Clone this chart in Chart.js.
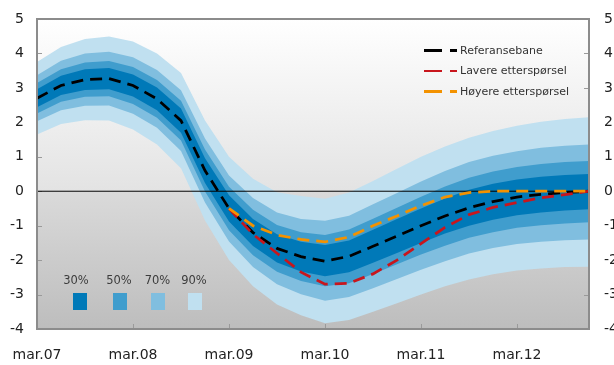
<!DOCTYPE html>
<html>
<head>
<meta charset="utf-8">
<script src="https://cdn.jsdelivr.net/npm/chart.js@4.4.1/dist/chart.umd.min.js"></script>
<style>
html,body{margin:0;padding:0;background:#fff;overflow:hidden;width:614px;height:365px;}
#wrap{position:absolute;left:0;top:0;width:614px;height:365px;overflow:hidden;}
#c{position:absolute;left:0;top:0;}
.lg{position:absolute;font-family:"DejaVu Sans",sans-serif;font-size:11px;color:#333;white-space:nowrap;line-height:13px;}
.seg{position:absolute;height:2.5px;}
.fl{position:absolute;font-family:"DejaVu Sans",sans-serif;font-size:11.5px;color:#3c3c3c;white-space:nowrap;line-height:13px;transform:translateX(-50%);}
.sq{position:absolute;width:14px;height:17px;}
</style>
</head>
<body>
<div id="wrap">
<canvas id="c" width="640" height="365"></canvas>
</div>
<script>
// ---- data ----
const quarters = ['mar.07','jun.07','sep.07','des.07','mar.08','jun.08','sep.08','des.08',
  'mar.09','jun.09','sep.09','des.09','mar.10','jun.10','sep.10','des.10',
  'mar.11','jun.11','sep.11','des.11','mar.12','jun.12','sep.12','des.12'];
const xTickLabels = ['mar.07','mar.08','mar.09','mar.10','mar.11','mar.12'];
const yTickValues = [-4,-3,-2,-1,0,1,2,3,4,5];

const referansebane = [2.70,3.07,3.24,3.27,3.07,2.68,2.05,0.60,-0.50,-1.20,-1.66,-1.90,-2.03,-1.89,-1.60,-1.30,-1.00,-0.72,-0.48,-0.30,-0.17,-0.09,-0.04,0.00];
const lavere = [null,null,null,null,null,null,null,null,-0.50,-1.25,-1.80,-2.35,-2.70,-2.67,-2.40,-2.00,-1.52,-1.05,-0.68,-0.47,-0.33,-0.19,-0.10,0.00];
const hoyere = [null,null,null,null,null,null,null,null,-0.50,-1.00,-1.27,-1.40,-1.47,-1.33,-1.00,-0.72,-0.42,-0.17,-0.04,0.00,0.00,0.00,0.00,0.00];

const upper90 = [3.75,4.19,4.42,4.49,4.35,4.00,3.43,2.05,1.00,0.36,-0.03,-0.14,-0.22,-0.04,0.30,0.65,1.00,1.30,1.55,1.75,1.90,2.02,2.10,2.15];
const upper70 = [3.37,3.79,4.00,4.05,3.89,3.52,2.93,1.53,0.46,-0.20,-0.62,-0.81,-0.86,-0.71,-0.38,-0.05,0.28,0.59,0.85,1.03,1.16,1.26,1.32,1.36];
const upper50 = [3.14,3.54,3.74,3.78,3.61,3.23,2.63,1.21,0.13,-0.54,-0.98,-1.19,-1.27,-1.11,-0.80,-0.48,-0.16,0.14,0.39,0.57,0.70,0.79,0.85,0.88];
const upper30 = [2.96,3.35,3.54,3.58,3.39,3.01,2.40,0.96,-0.12,-0.81,-1.25,-1.47,-1.56,-1.43,-1.12,-0.81,-0.50,-0.21,0.04,0.22,0.34,0.42,0.47,0.50];
const lower30 = [2.44,2.79,2.94,2.96,2.75,2.35,1.70,0.24,-0.88,-1.59,-2.07,-2.33,-2.47,-2.35,-2.08,-1.79,-1.50,-1.23,-1.00,-0.83,-0.70,-0.62,-0.56,-0.52];
const lower50 = [2.26,2.60,2.74,2.76,2.53,2.13,1.47,-0.01,-1.13,-1.86,-2.34,-2.61,-2.76,-2.67,-2.40,-2.12,-1.84,-1.58,-1.35,-1.19,-1.06,-0.99,-0.94,-0.90];
const lower70 = [2.03,2.35,2.48,2.49,2.25,1.84,1.17,-0.33,-1.46,-2.20,-2.70,-2.99,-3.18,-3.07,-2.82,-2.55,-2.28,-2.03,-1.81,-1.65,-1.53,-1.47,-1.42,-1.40];
const lower90 = [1.65,1.95,2.06,2.05,1.79,1.36,0.67,-0.85,-2.00,-2.76,-3.29,-3.60,-3.83,-3.74,-3.50,-3.25,-3.00,-2.76,-2.56,-2.41,-2.30,-2.24,-2.20,-2.19];

const seriesNames = ['Referansebane','Lavere etterspørsel','Høyere etterspørsel'];
const seriesColors = ['#000000','#c8161d','#f39200'];
const bandLabels = ['30%','50%','70%','90%'];
const bandColors = ['#0079b8','#409dcd','#80bedf','#c0e0f0'];
const zeroLine = quarters.map(() => 0);

// target plot-area box in page pixels
const AREA = {left: 37, top: 19, right: 589, bottom: 329};
const FRAME = '#8c8c8c';

// ---- chart ----
const FONT = '"DejaVu Sans", sans-serif';
const lineStyle = (label, data, color, order) => ({
  label, data, borderColor: color, borderWidth: 2.75, borderDash: [12, 7],
  borderCapStyle: 'butt', pointRadius: 0, fill: false, tension: 0, order
});
const bandSets = [
  [upper90, lower90, bandColors[3], 20],
  [upper70, lower70, bandColors[2], 18],
  [upper50, lower50, bandColors[1], 16],
  [upper30, lower30, bandColors[0], 14]
];
const datasets = [
  lineStyle(seriesNames[2], hoyere, seriesColors[2], 0),
  lineStyle(seriesNames[1], lavere, seriesColors[1], 1),
  lineStyle(seriesNames[0], referansebane, seriesColors[0], 2),
  {label: 'null', data: zeroLine, borderColor: '#000', borderWidth: 1, pointRadius: 0, fill: false, order: 3}
];
bandSets.forEach(([up, lo, col, ord]) => {
  datasets.push({data: up, fill: '+1', backgroundColor: col, borderColor: 'rgba(0,0,0,0)', borderWidth: 0, pointRadius: 0, tension: 0, order: ord});
  datasets.push({data: lo, fill: false, backgroundColor: col, borderColor: 'rgba(0,0,0,0)', borderWidth: 0, pointRadius: 0, tension: 0, order: ord});
});

const decor = {
  id: 'decor',
  beforeDraw(chart) {
    const {ctx, chartArea: a, scales: {y}} = chart;
    const z = (y.getPixelForValue(0) - a.top) / (a.bottom - a.top);
    const g = ctx.createLinearGradient(0, a.top, 0, a.bottom);
    g.addColorStop(0, '#ffffff');
    g.addColorStop(z, '#e3e3e3');
    g.addColorStop(Math.min(1, z + 0.002), '#dadada');
    g.addColorStop(1, '#bdbdbd');
    ctx.save();
    ctx.fillStyle = g;
    ctx.fillRect(a.left, a.top, a.right - a.left, a.bottom - a.top);
    ctx.restore();
  },
  beforeDatasetsDraw(chart) {
    const {ctx, chartArea: a, scales: {x, y}} = chart;
    ctx.save();
    ctx.strokeStyle = '#9a9a9a';
    ctx.lineWidth = 1;
    ctx.beginPath();
    yTickValues.forEach(v => {
      const py = Math.round(y.getPixelForValue(v)) + 0.5;
      ctx.moveTo(a.left, py); ctx.lineTo(a.left + 5, py);
      ctx.moveTo(a.right - 5, py); ctx.lineTo(a.right, py);
    });
    quarters.forEach((q, i) => {
      if (i > 0 && xTickLabels.includes(q)) {
        const px = Math.round(x.getPixelForValue(i)) + 0.5;
        ctx.moveTo(px, a.bottom); ctx.lineTo(px, a.bottom - 5);
      }
    });
    ctx.stroke();
    ctx.restore();
  },
  afterDatasetsDraw(chart) {
    const {ctx, chartArea: a} = chart;
    ctx.save();
    ctx.fillStyle = FRAME;
    ctx.fillRect(a.left - 1, a.top - 1, a.right - a.left + 2, 2);
    ctx.fillRect(a.left - 1, a.bottom - 1, a.right - a.left + 2, 2);
    ctx.fillRect(a.left - 1, a.top - 1, 2, a.bottom - a.top + 2);
    ctx.fillRect(a.right - 1, a.top - 1, 2, a.bottom - a.top + 2);
    ctx.restore();
  }
};

const tickFont = {family: FONT, size: 14};
const zeroPad = s => { s.paddingLeft = 0; s.paddingRight = 0; s.paddingTop = 0; s.paddingBottom = 0; };
const chart = new Chart(document.getElementById('c'), {
  type: 'line',
  data: {labels: quarters, datasets},
  plugins: [decor],
  options: {
    responsive: false,
    animation: false,
    devicePixelRatio: 1,
    layout: {padding: {top: 19, left: 0, right: 0, bottom: 0}},
    plugins: {legend: {display: false}, tooltip: {enabled: false}},
    scales: {
      x: {
        type: 'category', offset: false,
        grid: {display: false, drawTicks: false}, border: {display: true, color: FRAME, width: 2, z: 1},
        ticks: {autoSkip: false, maxRotation: 0, minRotation: 0, padding: 18, color: '#222', font: tickFont,
          callback: (v, i) => xTickLabels.includes(quarters[i]) ? quarters[i] : ''},
        afterFit: s => { s.height = 36; zeroPad(s); }
      },
      y: {
        position: 'left', min: -4, max: 5,
        grid: {display: false, drawTicks: false}, border: {display: true, color: FRAME, width: 2, z: 1},
        ticks: {stepSize: 1, padding: 13, color: '#222', font: tickFont},
        afterFit: s => { s.width = 37; zeroPad(s); }
      },
      y2: {
        position: 'right', min: -4, max: 5,
        grid: {display: false, drawTicks: false}, border: {display: true, color: FRAME, width: 2, z: 1},
        ticks: {stepSize: 1, padding: 15, color: '#222', font: tickFont},
        afterFit: s => { s.width = 51; zeroPad(s); }
      }
    }
  }
});
// nudge the layout padding so the plot area lands on the reference box
for (let k = 0; k < 3; k++) {
  const ca = chart.chartArea;
  const p = chart.options.layout.padding;
  p.left += AREA.left - ca.left;
  p.top += AREA.top - ca.top;
  p.right += ca.right - AREA.right;
  p.bottom += ca.bottom - AREA.bottom;
  chart.update('none');
}

// ---- legends (HTML text) ----
const wrap = document.getElementById('wrap');
const rowY = [50.5, 71, 91.5];
seriesNames.forEach((name, i) => {
  const long = document.createElement('div');
  long.className = 'seg';
  long.style.cssText = `left:424px;top:${rowY[i] - 1.25}px;width:18px;background:${seriesColors[i]}`;
  const short = document.createElement('div');
  short.className = 'seg';
  short.style.cssText = `left:450px;top:${rowY[i] - 1.25}px;width:7px;background:${seriesColors[i]}`;
  const t = document.createElement('div');
  t.className = 'lg';
  t.style.left = '460px';
  t.style.top = (rowY[i] - 7) + 'px';
  t.textContent = name;
  wrap.append(long, short, t);
});
const fanLabelX = [76, 119, 157.5, 194];
const fanSqX = [73, 113, 151, 188];
bandLabels.forEach((lab, i) => {
  const t = document.createElement('div');
  t.className = 'fl';
  t.style.left = fanLabelX[i] + 'px';
  t.style.top = '273.5px';
  t.textContent = lab;
  const s = document.createElement('div');
  s.className = 'sq';
  s.style.left = fanSqX[i] + 'px';
  s.style.top = '293px';
  s.style.background = bandColors[i];
  wrap.append(t, s);
});
</script>
</body>
</html>
